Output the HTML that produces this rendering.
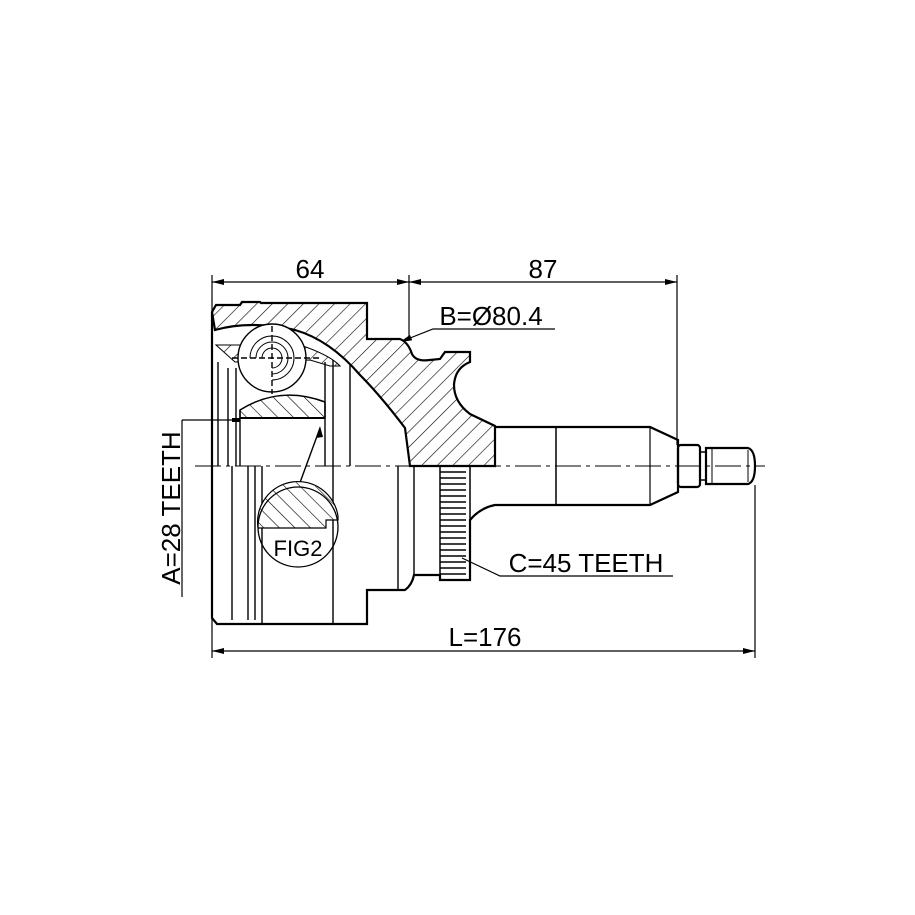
<!DOCTYPE html>
<html><head><meta charset="utf-8"><style>
html,body{margin:0;padding:0;background:#fff;}
svg{display:block;}
text{font-family:"Liberation Sans",sans-serif;fill:#000;}
</style></head><body>
<svg width="915" height="915" viewBox="0 0 915 915" xmlns="http://www.w3.org/2000/svg">
<defs>
<pattern id="h" patternUnits="userSpaceOnUse" width="11" height="11" patternTransform="rotate(45)">
<rect width="11" height="11" fill="#fff"/><line x1="0" y1="0" x2="0" y2="11" stroke="#000" stroke-width="1.2"/>
</pattern>
<pattern id="h2" patternUnits="userSpaceOnUse" width="11" height="11" patternTransform="rotate(-45)">
<rect width="11" height="11" fill="#fff"/><line x1="0" y1="0" x2="0" y2="11" stroke="#000" stroke-width="1.2"/>
</pattern>
<marker id="a" markerWidth="12" markerHeight="6" refX="12" refY="3" orient="auto-start-reverse" markerUnits="userSpaceOnUse"><path d="M0,0 L12,3 L0,6z" fill="#000"/></marker>
</defs>
<g fill="none" stroke="#000" stroke-width="1.2">
<line x1="212" y1="275" x2="212" y2="658"/>
<line x1="409" y1="275" x2="409" y2="338"/>
<line x1="677" y1="275" x2="677" y2="445"/>
<line x1="755" y1="485" x2="755" y2="658"/>
<line x1="212" y1="282" x2="409" y2="282" marker-start="url(#a)" marker-end="url(#a)"/>
<line x1="409" y1="282" x2="677" y2="282" marker-start="url(#a)" marker-end="url(#a)"/>
<line x1="212" y1="651" x2="755" y2="651" marker-start="url(#a)" marker-end="url(#a)"/>
<polyline points="555,329 433,329 400,342" marker-end="url(#a)"/>
<polyline points="673,576 500,576 462,558"/>
<line x1="182" y1="420" x2="182" y2="597"/>
<line x1="182" y1="420" x2="240" y2="420"/>
</g>

<path d="M212,312 L216,305 L240,305 L242,302 L260,302 L261,303 L367,303 L367,339 L400,339 Q408,342 412,354 Q416,362 430,360 L440,359 L445,352 L470,352 L470,362 Q455,368 454,385 Q454,402 470,414 L495,426 L495,466 L410,466 L405,428 Q380,395 360,375 Q330,340 295,330 Q250,320 215,330 Z" fill="url(#h)" stroke="#000" stroke-width="2.2"/>
<path d="M240,410 Q280,385 325,402 L325,418 L240,418 Z" fill="url(#h2)" stroke="#000" stroke-width="1.5"/>
<path d="M216,345 L235,362 L310,360 L330,366 L340,366 Q330,355 300,345 Z" fill="url(#h)" stroke="#000" stroke-width="1"/>

<g fill="none" stroke="#000" stroke-width="2.2">
<path d="M212,312 L212,618 L217,624 L367,624 L367,590 L405,590 Q412,585 414,575 L440,575 L440,580 L470,580 L470,520 Q480,508 495,505 L556,505 L650,505 L678,492 L678,440 L650,427 L556,427 L495,427"/>
<line x1="556" y1="427" x2="556" y2="505" stroke-width="1.5"/>
<line x1="650" y1="427" x2="650" y2="505" stroke-width="1.2"/>
<rect x="678" y="445" width="22" height="42" rx="3"/>
<rect x="700" y="452" width="6" height="28" stroke-width="1.5"/>
<path d="M706,448 L748,448 Q755,450 755,466 Q755,482 748,484 L706,484 Z"/>
<line x1="712" y1="448" x2="712" y2="484" stroke-width="1"/>
<line x1="748" y1="450" x2="748" y2="482" stroke-width="1"/>
<rect x="440" y="466" width="30" height="114" stroke-width="1.5"/>
</g>
<g stroke="#000" stroke-width="1.6">
<line x1="440" y1="472" x2="466" y2="472"/><line x1="440" y1="478" x2="466" y2="478"/><line x1="440" y1="484" x2="466" y2="484"/><line x1="440" y1="490" x2="466" y2="490"/><line x1="440" y1="496" x2="466" y2="496"/><line x1="440" y1="502" x2="466" y2="502"/><line x1="440" y1="508" x2="466" y2="508"/><line x1="440" y1="514" x2="466" y2="514"/><line x1="440" y1="520" x2="466" y2="520"/><line x1="440" y1="526" x2="466" y2="526"/><line x1="440" y1="532" x2="466" y2="532"/><line x1="440" y1="538" x2="466" y2="538"/><line x1="440" y1="544" x2="466" y2="544"/><line x1="440" y1="550" x2="466" y2="550"/><line x1="440" y1="556" x2="466" y2="556"/><line x1="440" y1="562" x2="466" y2="562"/><line x1="440" y1="568" x2="466" y2="568"/><line x1="440" y1="574" x2="466" y2="574"/>
</g>
<g fill="none" stroke="#000" stroke-width="1.4">
<line x1="232" y1="466" x2="232" y2="620"/>
<line x1="248" y1="466" x2="248" y2="620"/>
<line x1="255" y1="466" x2="255" y2="620"/>
<line x1="262" y1="466" x2="262" y2="624"/>
<line x1="333" y1="466" x2="333" y2="624"/>
<line x1="398" y1="466" x2="398" y2="590"/>
<line x1="414" y1="466" x2="414" y2="575"/>
<line x1="218" y1="362" x2="218" y2="466"/>
<line x1="228" y1="368" x2="228" y2="466"/>
<line x1="236" y1="368" x2="236" y2="466"/>
<line x1="240" y1="410" x2="240" y2="466"/>
<line x1="325" y1="362" x2="325" y2="466"/>
<line x1="333" y1="360" x2="333" y2="466"/>
<line x1="350" y1="365" x2="350" y2="466"/>
<line x1="240" y1="418" x2="325" y2="418" stroke-width="2"/>
<line x1="232" y1="420" x2="240" y2="420" stroke-width="4"/>
<circle cx="272" cy="358" r="34" fill="#fff"/>
<path d="M262,358 a10,10 0 1 1 10,10 M256,358 a16,16 0 1 1 16,16 M250,358 a22,22 0 1 1 22,22" stroke-width="1"/>
<line x1="272" y1="326" x2="272" y2="394" stroke-dasharray="6,3"/>
<line x1="232" y1="358" x2="322" y2="358" stroke-dasharray="6,3"/>
<line x1="298" y1="488" x2="320" y2="428"/>
<line x1="195" y1="466" x2="765" y2="466" stroke-dasharray="26,5,4,5" stroke-width="1"/>
</g>
<polygon points="320,426 316,438 323,437" fill="#000"/>
<path d="M258,528 A40,40 0 0 1 338,516 L338,520 L326,520 L326,528 Z" fill="url(#h2)" stroke="#000" stroke-width="1.2"/>
<circle cx="298" cy="527" r="40" fill="none" stroke="#000" stroke-width="1.3"/>
<text x="298" y="556" font-size="22" text-anchor="middle">FIG2</text>

<text x="310" y="278" font-size="26" text-anchor="middle">64</text>
<text x="543" y="278" font-size="26" text-anchor="middle">87</text>
<text x="491" y="325" font-size="26" text-anchor="middle">B=Ø80.4</text>
<text x="586" y="572" font-size="26" text-anchor="middle">C=45 TEETH</text>
<text x="485" y="646" font-size="26" text-anchor="middle">L=176</text>
<text transform="translate(180,508) rotate(-90)" font-size="26" text-anchor="middle">A=28 TEETH</text>
</svg>
</body></html>
